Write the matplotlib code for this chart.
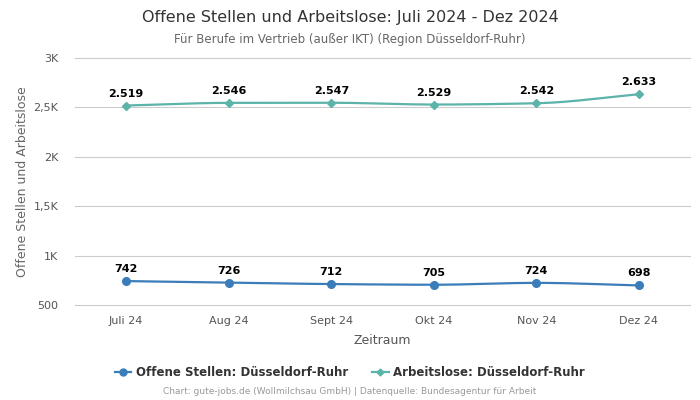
import numpy as np
import matplotlib.pyplot as plt
from matplotlib.ticker import FuncFormatter

months = ['Juli 24', 'Aug 24', 'Sept 24', 'Okt 24', 'Nov 24', 'Dez 24']
offene_stellen = [742, 726, 712, 705, 724, 698]
arbeitslose = [2519, 2546, 2547, 2529, 2542, 2633]

blue = '#3a7dba'
teal = '#5bb3aa'


def smooth(y, n=30):
    # monotone cubic (pchip) through the points, for drawing only
    y = np.asarray(y, dtype=float)
    x = np.arange(len(y), dtype=float)
    d = np.diff(y)
    m = np.zeros_like(y)
    for i in range(1, len(y) - 1):
        if d[i - 1] * d[i] > 0:
            m[i] = 2 * d[i - 1] * d[i] / (d[i - 1] + d[i])
    m[0] = d[0]
    m[-1] = d[-1]
    xs, ys = [], []
    for i in range(len(y) - 1):
        t = np.linspace(0, 1, n)
        h00 = 2 * t**3 - 3 * t**2 + 1
        h10 = t**3 - 2 * t**2 + t
        h01 = -2 * t**3 + 3 * t**2
        h11 = t**3 - t**2
        xs.extend(x[i] + t)
        ys.extend(h00 * y[i] + h10 * m[i] + h01 * y[i + 1] + h11 * m[i + 1])
    return np.array(xs), np.array(ys)


def fmt_de(v):
    return f'{v:,.0f}'.replace(',', '.')


def ytick(v, pos):
    if v >= 1000:
        s = f'{v / 1000:g}'.replace('.', ',')
        return s + 'K'
    return f'{v:.0f}'


fig = plt.figure(figsize=(7, 4), dpi=100)
ax = fig.add_axes([0.107, 0.2375, 0.879, 0.6175])

x = np.arange(len(months))
for vals, col, mk, ms in [(offene_stellen, blue, 'o', 5.5), (arbeitslose, teal, 'D', 4)]:
    sx, sy = smooth(vals)
    ax.plot(sx, sy, color=col, lw=1.6, zorder=3)
    ax.plot(x, vals, ls='none', marker=mk, ms=ms, color=col, zorder=4)
    for xi, v in zip(x, vals):
        ax.annotate(fmt_de(v), (xi, v), xytext=(0, 5), textcoords='offset points',
                    ha='center', va='bottom', fontsize=8, fontweight='bold', color='black')

ax.set_xlim(-0.5, 5.5)
ax.set_ylim(500, 3000)
ax.set_yticks([500, 1000, 1500, 2000, 2500, 3000])
ax.yaxis.set_major_formatter(FuncFormatter(ytick))
ax.set_xticks(x)
ax.set_xticklabels(months)
ax.grid(axis='y', color='#cccccc', lw=0.8)
for gl in ax.get_ygridlines():
    gl.set_clip_on(False)
ax.set_axisbelow(True)
for s in ax.spines.values():
    s.set_visible(False)
ax.tick_params(axis='both', length=0, labelsize=8, colors='#555555', pad=8)
ax.tick_params(axis='y', pad=12)
ax.set_xlabel('Zeitraum', fontsize=9, color='#555555', labelpad=6)
ax.set_ylabel('Offene Stellen und Arbeitslose', fontsize=9, color='#666666', labelpad=3)

fig.text(0.5, 0.957, 'Offene Stellen und Arbeitslose: Juli 2024 - Dez 2024',
         ha='center', va='center', fontsize=11.5, color='#333333')
fig.text(0.5, 0.902, 'Für Berufe im Vertrieb (außer IKT) (Region Düsseldorf-Ruhr)',
         ha='center', va='center', fontsize=8.5, color='#666666')

h1, = ax.plot([], [], color=blue, marker='o', ms=5, lw=1.6)
h2, = ax.plot([], [], color=teal, marker='D', ms=3.5, lw=1.6)
fig.legend([h1, h2], ['Offene Stellen: Düsseldorf-Ruhr', 'Arbeitslose: Düsseldorf-Ruhr'],
           loc='center', bbox_to_anchor=(0.5, 0.068), ncol=2, frameon=False,
           prop={'size': 8.5, 'weight': 'bold'}, labelcolor='#333333',
           handlelength=1.4, columnspacing=2.0, handletextpad=0.4)
fig.text(0.5, 0.02, 'Chart: gute-jobs.de (Wollmilchsau GmbH) | Datenquelle: Bundesagentur für Arbeit',
         ha='center', va='center', fontsize=6.5, color='#999999')

fig.savefig('out.png', dpi=100)
